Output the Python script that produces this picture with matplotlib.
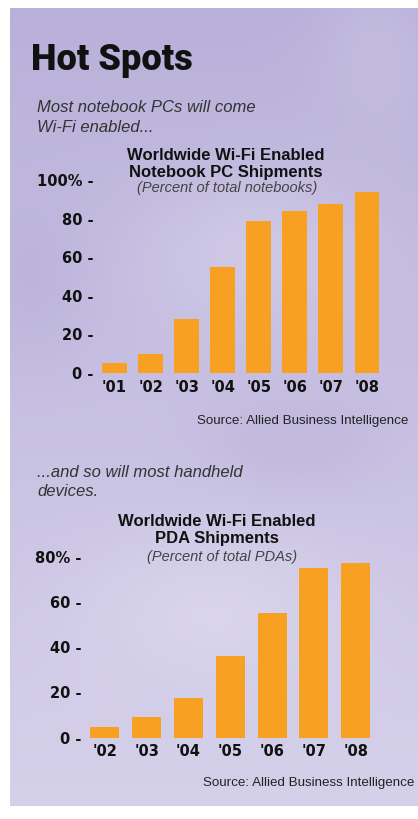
import numpy as np
import matplotlib.pyplot as plt
from matplotlib.colors import LinearSegmentedColormap

# Данные: доля Wi-Fi в ноутбуках и КПК (%)
nb_years = ["'01", "'02", "'03", "'04", "'05", "'06", "'07", "'08"]
nb_values = [5, 10, 28, 55, 79, 84, 88, 94]
nb_ticks = [0, 20, 40, 60, 80, 100]
nb_tick_labels = ['0 -', '20 -', '40 -', '60 -', '80 -', '100% -']

pda_years = ["'02", "'03", "'04", "'05", "'06", "'07", "'08"]
pda_values = [4.5, 9, 17.5, 36, 55, 75, 77]
pda_ticks = [0, 20, 40, 60, 80]
pda_tick_labels = ['0 -', '20 -', '40 -', '60 -', '80% -']

W, H = 418, 819
BAR = '#f7a021'
SANS = ['Liberation Sans', 'DejaVu Sans']
TICKS = ['DejaVu Sans']
HEAD = ['Roboto', 'DejaVu Sans']


def fx(x):
    return x / W


def fy(y):
    return 1 - y / H


def rect(left, top, right, bottom):
    return [fx(left), fy(bottom), (right - left) / W, (bottom - top) / H]


fig = plt.figure(figsize=(W / 100, H / 100), dpi=100)
fig.patch.set_facecolor('white')

# Фон: лавандовый градиент с мягкими "облаками"
bg = fig.add_axes(rect(10, 8, 418, 806))
gx, gy = np.meshgrid(np.linspace(0, 1, 200), np.linspace(0, 1, 400))
v = 0.25 + 0.55 * gy
v += 0.25 * np.exp(-((gx - 0.6) ** 2 / 0.08 + (gy - 0.3) ** 2 / 0.01))
v += 0.2 * np.exp(-((gx - 0.5) ** 2 / 0.1 + (gy - 0.75) ** 2 / 0.01))
v -= 0.12 * np.exp(-((gx - 0.05) ** 2 / 0.02 + (gy - 0.35) ** 2 / 0.01))
v -= 0.15 * np.exp(-((gx - 0.7) ** 2 / 0.05 + (gy - 0.55) ** 2 / 0.004))
v += 0.15 * np.exp(-((gx - 0.9) ** 2 / 0.02 + (gy - 0.05) ** 2 / 0.01))
v = np.clip(v, 0, 1)
cmap = LinearSegmentedColormap.from_list('lav', ['#aca2d2', '#c6bfe1', '#e0dcf0'])
bg.imshow(v, cmap=cmap, aspect='auto', vmin=0, vmax=1, interpolation='bicubic')
bg.axis('off')

# Заголовок и подписи
fig.text(fx(31), fy(70), 'Hot Spots', family=HEAD, fontweight='heavy',
         fontsize=26, color='#111111', va='baseline', ha='left')

fig.text(fx(37), fy(108), 'Most notebook PCs will come', family=SANS,
         style='italic', fontsize=12, color='#333333', va='center')
fig.text(fx(37), fy(127), 'Wi-Fi enabled...', family=SANS,
         style='italic', fontsize=12, color='#333333', va='center')

fig.text(fx(37), fy(473), '...and so will most handheld', family=SANS,
         style='italic', fontsize=12, color='#333333', va='center')
fig.text(fx(37), fy(492), 'devices.', family=SANS,
         style='italic', fontsize=12, color='#333333', va='center')


def draw_chart(years, values, ticks, tick_labels, left, right, top, bottom, ymax):
    ax = fig.add_axes(rect(left, top, right, bottom))
    x = np.arange(len(years))
    ax.bar(x, values, width=0.69, color=BAR)
    ax.set_xlim(-0.5, len(years) - 0.5)
    ax.set_ylim(0, ymax)
    ax.set_yticks(ticks)
    ax.set_yticklabels(tick_labels, family=TICKS, fontweight='bold',
                       fontsize=10.5, color='#111111')
    ax.set_xticks(x)
    ax.set_xticklabels(years, family=TICKS, fontweight='bold',
                       fontsize=10.5, color='#111111')
    ax.tick_params(axis='y', length=0, pad=2)
    ax.tick_params(axis='x', length=0, pad=5)
    ax.patch.set_alpha(0)
    for s in ax.spines.values():
        s.set_visible(False)
    return ax


# Ноутбуки
draw_chart(nb_years, nb_values, nb_ticks, nb_tick_labels,
           96.5, 385, 180.5, 373, 100)
fig.text(fx(226), fy(155), 'Worldwide Wi-Fi Enabled', family=SANS,
         fontweight='bold', fontsize=12, color='#111111', ha='center', va='center')
fig.text(fx(226), fy(172), 'Notebook PC Shipments', family=SANS,
         fontweight='bold', fontsize=12, color='#111111', ha='center', va='center')
fig.text(fx(227), fy(188), '(Percent of total notebooks)', family=SANS,
         style='italic', fontsize=10.5, color='#444444', ha='center', va='center')
fig.text(fx(408), fy(421), 'Source: Allied Business Intelligence', family=SANS,
         fontsize=9.6, color='#222222', ha='right', va='center')

# КПК
draw_chart(pda_years, pda_values, pda_ticks, pda_tick_labels,
           84, 376.6, 556.7, 737.5, 80)
fig.text(fx(217), fy(522), 'Worldwide Wi-Fi Enabled', family=SANS,
         fontweight='bold', fontsize=12, color='#111111', ha='center', va='center')
fig.text(fx(217), fy(539), 'PDA Shipments', family=SANS,
         fontweight='bold', fontsize=12, color='#111111', ha='center', va='center')
fig.text(fx(222), fy(557), '(Percent of total PDAs)', family=SANS,
         style='italic', fontsize=10.5, color='#444444', ha='center', va='center')
fig.text(fx(203), fy(783), 'Source: Allied Business Intelligence', family=SANS,
         fontsize=9.6, color='#222222', ha='left', va='center')

fig.savefig('out.png', dpi=100)
